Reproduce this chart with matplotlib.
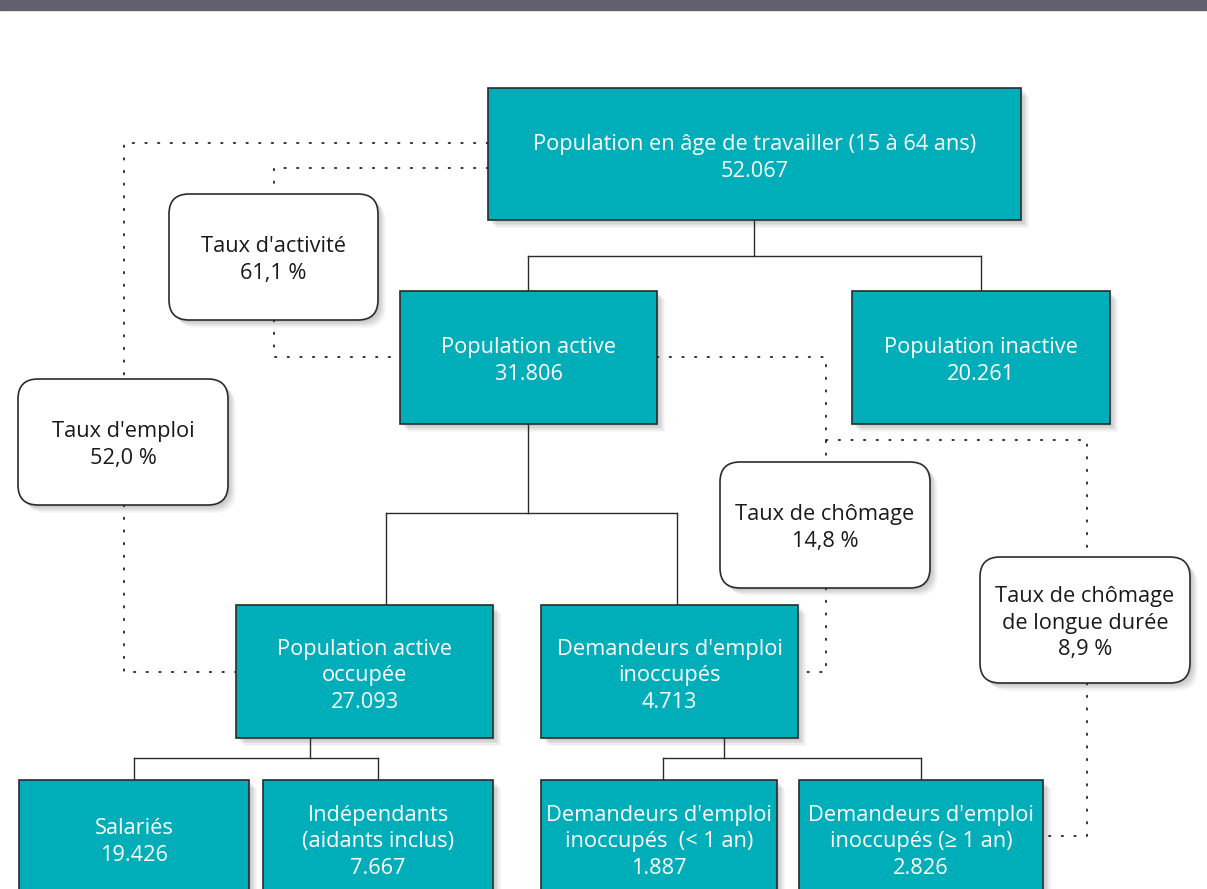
import matplotlib.pyplot as plt
from matplotlib.patches import Rectangle, FancyBboxPatch

plt.rcParams['font.family'] = ['Open Sans', 'DejaVu Sans']

TEAL = '#00aeb9'
EDGE = '#2b2b2b'

# chart content
node_labels = [
    'Population en âge de travailler (15 à 64 ans)',
    'Population active',
    'Population inactive',
    'Population active\noccupée',
    "Demandeurs d'emploi\ninoccupés",
    'Salariés',
    'Indépendants\n(aidants inclus)',
    "Demandeurs d'emploi\ninoccupés  (< 1 an)",
    "Demandeurs d'emploi\ninoccupés (≥ 1 an)",
]
node_values = ['52.067', '31.806', '20.261', '27.093', '4.713',
               '19.426', '7.667', '1.887', '2.826']

rate_labels = ["Taux d'activité", "Taux d'emploi", 'Taux de chômage',
               'Taux de chômage\nde longue durée']
rate_values = ['61,1 %', '52,0 %', '14,8 %', '8,9 %']

# layout (pixels): x0, y0, x1, y1
node_boxes = [
    (488, 88, 1021, 220),
    (400, 291, 657, 424),
    (852, 291, 1110, 424),
    (236, 605, 493, 738),
    (541, 605, 798, 738),
    (19, 780, 249, 925),
    (263, 780, 493, 925),
    (541, 780, 777, 925),
    (799, 780, 1043, 925),
]
node_text_y = [158, 361, 361, 676, 676, 842, 842, 842, 842]

rate_boxes = [
    (169, 194, 378, 320),
    (18, 379, 228, 505),
    (720, 462, 930, 588),
    (980, 557, 1190, 683),
]

# solid tree connectors
tree_lines = [
    [(754, 220), (754, 256)], [(528, 256), (981, 256)],
    [(528, 256), (528, 291)], [(981, 256), (981, 291)],
    [(528, 424), (528, 513)], [(386, 513), (677, 513)],
    [(386, 513), (386, 605)], [(677, 513), (677, 605)],
    [(310, 738), (310, 758)], [(134, 758), (378, 758)],
    [(134, 758), (134, 780)], [(378, 758), (378, 780)],
    [(724, 738), (724, 758)], [(663, 758), (921, 758)],
    [(663, 758), (663, 780)], [(921, 758), (921, 780)],
]

# dotted rate connectors
dot_lines = [
    [(488, 143), (124, 143), (124, 379)],
    [(124, 505), (124, 672), (236, 672)],
    [(488, 168), (274, 168), (274, 194)],
    [(274, 320), (274, 357), (400, 357)],
    [(657, 357), (826, 357), (826, 462)],
    [(826, 440), (1087, 440), (1087, 557)],
    [(826, 588), (826, 672), (798, 672)],
    [(1087, 683), (1087, 836), (1043, 836)],
]

fig = plt.figure(figsize=(12.07, 8.89), dpi=100)
ax = fig.add_axes([0, 0, 1, 1])
ax.set_xlim(0, 1207)
ax.set_ylim(889, 0)
ax.axis('off')

ax.add_patch(Rectangle((0, 0), 1207, 10, color='#625f6e', zorder=10))


def shadow(x0, y0, x1, y1, rounded=False):
    for i, a in enumerate([0.05, 0.05, 0.05, 0.04, 0.03]):
        off = 2 + i * 1.5
        if rounded:
            p = FancyBboxPatch((x0 + off, y0 + off), x1 - x0, y1 - y0,
                               boxstyle='round,pad=0,rounding_size=20',
                               facecolor='black', edgecolor='none', alpha=a, zorder=1)
        else:
            p = Rectangle((x0 + off, y0 + off), x1 - x0, y1 - y0,
                          facecolor='black', edgecolor='none', alpha=a, zorder=1)
        ax.add_patch(p)


for pts in tree_lines:
    xs, ys = zip(*pts)
    ax.plot(xs, ys, color=EDGE, lw=1.0, zorder=2, solid_capstyle='projecting')

for pts in dot_lines:
    xs, ys = zip(*pts)
    ax.plot(xs, ys, color='#222222', lw=1.3, linestyle=(0, (0.8, 6.2)),
            dash_capstyle='round', zorder=2)

for (x0, y0, x1, y1), lab, val, ty in zip(node_boxes, node_labels,
                                          node_values, node_text_y):
    shadow(x0, y0, x1, y1)
    ax.add_patch(Rectangle((x0, y0), x1 - x0, y1 - y0, facecolor=TEAL,
                           edgecolor=EDGE, lw=1.2, zorder=3))
    ax.text((x0 + x1) / 2, ty, lab + '\n' + val, ha='center', va='center',
            color='white', fontsize=15.7, linespacing=1.35, zorder=4)

for (x0, y0, x1, y1), lab, val in zip(rate_boxes, rate_labels, rate_values):
    shadow(x0, y0, x1, y1, rounded=True)
    ax.add_patch(FancyBboxPatch((x0, y0), x1 - x0, y1 - y0,
                                boxstyle='round,pad=0,rounding_size=20',
                                facecolor='white', edgecolor=EDGE, lw=1.2, zorder=3))
    ax.text((x0 + x1) / 2, (y0 + y1) / 2 + 3, lab + '\n' + val, ha='center',
            va='center', color='#1a1a1a', fontsize=15.7, linespacing=1.35, zorder=4)

fig.savefig('out.png', dpi=100)
